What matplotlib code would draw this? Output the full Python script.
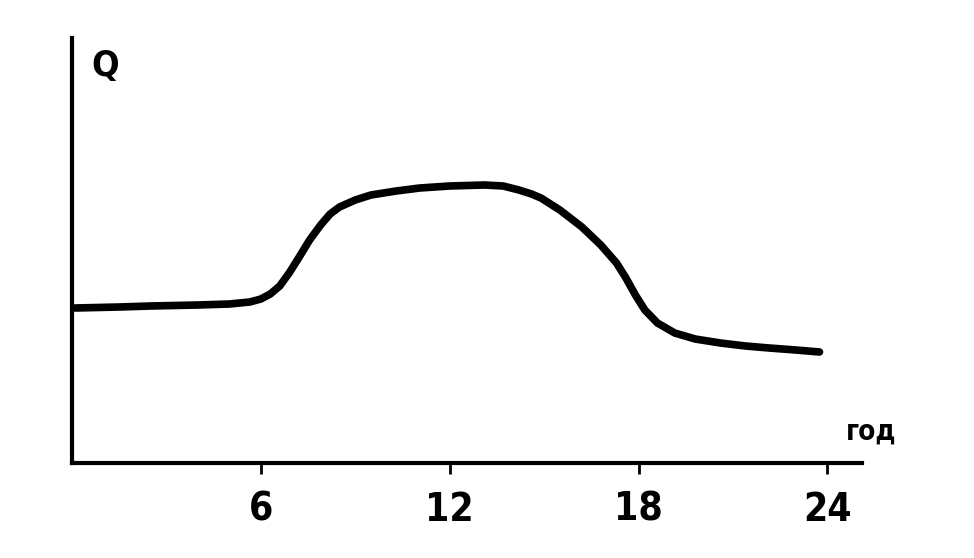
import matplotlib
matplotlib.use("Agg")
import matplotlib.pyplot as plt

# hours of the day and load Q (arbitrary units)
hours = [0.1, 1.5, 2.5, 4.0, 5.0, 5.65, 6.0, 6.3, 6.6, 6.9, 7.2, 7.55,
         7.9, 8.2, 8.5, 9.0, 9.5, 10.3, 11.05, 12.0, 13.1, 13.7, 14.2,
         14.6, 14.9, 15.5, 16.2, 16.8, 17.3, 17.6, 17.9, 18.2, 18.6,
         19.15, 19.8, 20.6, 21.4, 22.15, 23.0, 23.75]
Q = [155, 156, 157, 158, 159, 161, 164, 169, 177, 190, 205, 223,
     238, 249, 256, 263, 268, 272, 275, 277, 278, 277, 273,
     269, 265, 253, 236, 218, 200, 185, 168, 153, 140,
     130, 124, 120, 117, 115, 113, 111]

xticks = [6, 12, 18, 24]
xlabel = "год"
ylabel = "Q"

plt.rcParams["font.family"] = ["Liberation Sans Narrow", "DejaVu Sans"]

fig = plt.figure(figsize=(9.74, 5.58), dpi=100)
ax = fig.add_axes([72 / 974, 95 / 558, 790 / 974, 425 / 558])

ax.plot(hours, Q, color="black", lw=5.5, solid_capstyle="round",
        solid_joinstyle="round")

ax.set_xlim(0, 25.1)
ax.set_ylim(0, 425)

for s in ("top", "right"):
    ax.spines[s].set_visible(False)
for s in ("left", "bottom"):
    ax.spines[s].set_linewidth(3)

ax.set_yticks([])
ax.set_xticks(xticks)
ax.set_xticklabels([str(t) for t in xticks], fontsize=28, fontweight="bold",
                   fontstretch="condensed")
ax.tick_params(axis="x", direction="out", length=8, width=2, pad=12)

ax.text(0.025, 0.975, ylabel, transform=ax.transAxes, fontsize=26,
        fontweight="bold", fontstretch="condensed", ha="left", va="top")
ax.text(0.98, 0.042, xlabel, transform=ax.transAxes, fontsize=20,
        fontweight="bold", fontstretch="condensed", ha="left", va="bottom")

fig.savefig("out.png", dpi=100)
